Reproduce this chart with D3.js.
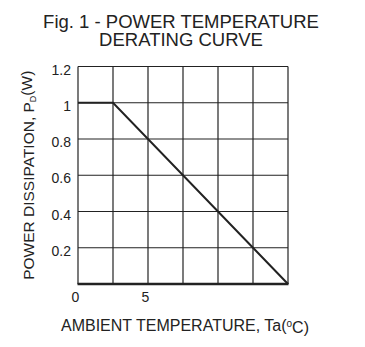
<!DOCTYPE html>
<html>
<head>
<meta charset="utf-8">
<script src="https://cdn.jsdelivr.net/npm/d3@7"></script>
<style>
  body { margin: 0; background: #fff; }
  text { font-family: "Liberation Sans", Arial, sans-serif; fill: #222; }
</style>
</head>
<body>
<div id="chart"></div>
<script>
// Derating curve data
const tempGrid = [0, 2.5, 5, 7.5, 10, 12.5, 15];
const tempTicks = [0, 5];
const powerTicks = [0.2, 0.4, 0.6, 0.8, 1, 1.2];
const powerGrid = [0, 0.2, 0.4, 0.6, 0.8, 1, 1.2];
const curveTemp = [0, 2.5, 15];
const curvePower = [1, 1, 0];

const W = 365, H = 347;
const margin = { top: 66.5, right: 77, bottom: 63, left: 78 };
const width = W - margin.left - margin.right;
const height = H - margin.top - margin.bottom;

const svg = d3.select("#chart")
  .append("svg")
    .attr("width", W)
    .attr("height", H);

const g = svg.append("g")
    .attr("transform", `translate(${margin.left},${margin.top})`);

const x = d3.scaleLinear().domain([0, 15]).range([0, width]);
const y = d3.scaleLinear().domain([0, 1.2]).range([height, 0]);

// grid
g.selectAll(".vgrid")
  .data(tempGrid)
  .enter().append("line")
    .attr("x1", d => x(d)).attr("x2", d => x(d))
    .attr("y1", 0).attr("y2", height)
    .attr("stroke", "#222")
    .attr("stroke-width", 1.2);

g.selectAll(".hgrid")
  .data(powerGrid)
  .enter().append("line")
    .attr("x1", 0).attr("x2", width)
    .attr("y1", d => y(d)).attr("y2", d => y(d))
    .attr("stroke", "#222")
    .attr("stroke-width", 1.2);

// bottom border heavier
g.append("line")
  .attr("x1", -0.5).attr("x2", width + 0.5)
  .attr("y1", height).attr("y2", height)
  .attr("stroke", "#222")
  .attr("stroke-width", 2.5);

// y tick labels
const yAxis = g.append("g")
  .call(d3.axisLeft(y).tickValues(powerTicks).tickFormat(d => String(d)).tickSize(0).tickPadding(7));
yAxis.select(".domain").remove();
yAxis.selectAll("text")
  .attr("dy", "0.55em")
  .style("font-size", "14px")
  .style("font-family", "'Liberation Sans', Arial, sans-serif")
  .attr("fill", "#222");

// x tick labels
const xAxis = g.append("g")
  .attr("transform", `translate(-3,${height})`)
  .call(d3.axisBottom(x).tickValues(tempTicks).tickSize(0).tickPadding(8));
xAxis.select(".domain").remove();
xAxis.selectAll("text")
  .style("font-size", "14px")
  .style("font-family", "'Liberation Sans', Arial, sans-serif")
  .attr("fill", "#222");

// derating curve
const line = d3.line()
  .x((d, i) => x(curveTemp[i]))
  .y(d => y(d));

g.append("path")
  .datum(curvePower)
  .attr("d", line)
  .attr("fill", "none")
  .attr("stroke", "#222")
  .attr("stroke-width", 2);

// title
svg.append("text")
  .attr("x", 181).attr("y", 28)
  .attr("text-anchor", "middle")
  .style("font-size", "18.5px")
  .text("Fig. 1 - POWER TEMPERATURE");
svg.append("text")
  .attr("x", 181).attr("y", 46)
  .attr("text-anchor", "middle")
  .style("font-size", "18.5px")
  .text("DERATING CURVE");

// y axis label
const yLabel = svg.append("text")
  .attr("transform", `translate(34,${margin.top + height / 2}) rotate(-90)`)
  .attr("text-anchor", "middle")
  .style("font-size", "15.5px");
yLabel.append("tspan").text("POWER DISSIPATION, P");
yLabel.append("tspan").attr("dy", "0.25em").style("font-size", "9px").text("D");
yLabel.append("tspan").attr("dy", "-0.25em").text("(W)");

// x axis label
const xLabel = svg.append("text")
  .attr("x", 185)
  .attr("y", 331)
  .attr("text-anchor", "middle")
  .style("font-size", "16px");
xLabel.append("tspan").text("AMBIENT TEMPERATURE, Ta(");
xLabel.append("tspan").attr("dy", "-0.4em").style("font-size", "10px").text("o");
xLabel.append("tspan").attr("dy", "0.4em").text("C)");
</script>
</body>
</html>
